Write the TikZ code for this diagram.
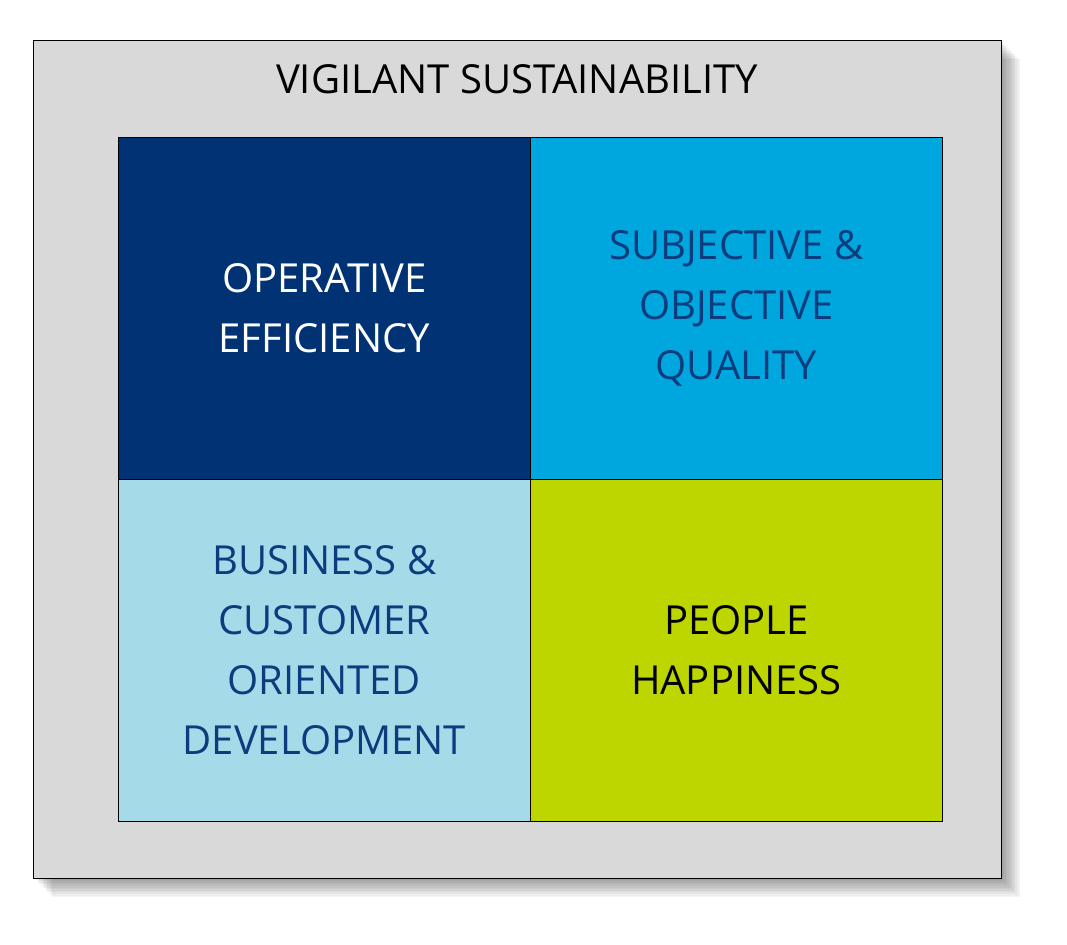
\documentclass[tikz,border=0pt]{standalone}
\usepackage{fontspec}
\setmainfont{Open Sans}
\definecolor{navy}{HTML}{003274}
\definecolor{cyanq}{HTML}{00A6DE}
\definecolor{lightq}{HTML}{A5DAE8}
\definecolor{limeq}{HTML}{BED600}
\definecolor{boxgray}{HTML}{D9D9D9}
\definecolor{txtblue}{HTML}{0B3C7D}
\begin{document}
\begin{tikzpicture}[x=1pt,y=-1pt,
  quad/.style={draw=black,line width=0.6pt,minimum width=412pt,minimum height=342pt,anchor=north west,inner sep=0pt},
  qtext/.style={font=\fontsize{40}{60}\selectfont,align=center}]
\useasboundingbox (0,0) rectangle (1067,944);
\fill[white] (0,0) rectangle (1067,944);
\foreach \i in {1,...,12}{
  \fill[black,opacity=0.035] (33+\i*1.6,40+\i*1.6) rectangle (1001+\i*1.6,878+\i*1.6);
}
\node[draw=black,line width=0.6pt,fill=boxgray,minimum width=968pt,minimum height=838pt,anchor=north west,inner sep=0pt] (outer) at (33,40) {};
\node[font=\fontsize{40}{48}\selectfont] (title) at (517,79) {VIGILANT SUSTAINABILITY};
\node[quad,fill=navy] (q1) at (118,137) {};
\node[quad,fill=cyanq] (q2) at (530,137) {};
\node[quad,fill=lightq] (q3) at (118,479) {};
\node[quad,fill=limeq] (q4) at (530,479) {};
\node[qtext,text=white] (t1) at (q1.center) {OPERATIVE\\EFFICIENCY};
\node[qtext,text=txtblue] (t2) at (q2.center) {SUBJECTIVE \&\\OBJECTIVE\\QUALITY};
\node[qtext,text=txtblue] (t3) at (q3.center) {BUSINESS \&\\CUSTOMER\\ORIENTED\\DEVELOPMENT};
\node[qtext,text=black] (t4) at (q4.center) {PEOPLE\\HAPPINESS};
\end{tikzpicture}
\end{document}
